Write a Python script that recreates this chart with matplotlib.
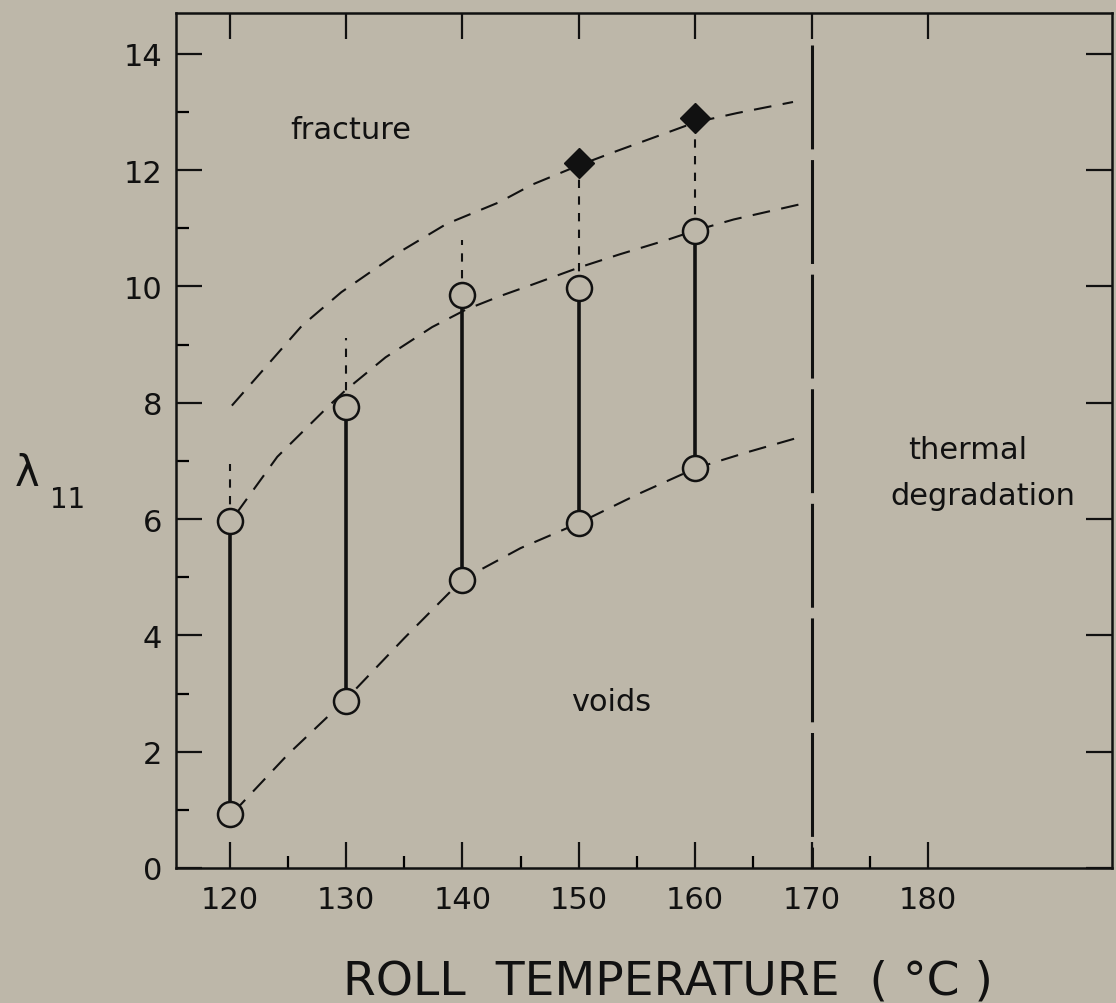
import matplotlib
matplotlib.use('Agg')
import matplotlib.pyplot as plt
from matplotlib.ticker import MultipleLocator, FixedLocator

# roll temperature (deg C) of each test series
temps = [120, 130, 140, 150, 160]
# lower / upper draw ratio limits (open circles)
lam_low = [0.92, 2.87, 4.96, 5.93, 6.87]
lam_high = [5.97, 7.93, 9.85, 9.97, 10.96]
# top of the dotted extension above each upper circle
lam_ext = [6.95, 9.12, 10.8, 12.12, 12.9]
# fracture points (filled diamonds)
frac_temps = [150, 160]
frac_vals = [12.12, 12.9]

# hand drawn boundary curves
upper_x = [120.2, 126.2, 129.6, 132.2, 134.6, 138.6, 143.2, 146.0, 150.0, 153.3, 157.0, 160.0, 163.6, 168.4]
upper_y = [7.95, 9.32, 9.9, 10.26, 10.59, 11.07, 11.45, 11.75, 12.08, 12.33, 12.6, 12.82, 12.98, 13.17]
mid_x = [120.6, 124.1, 128.6, 130.0, 133.4, 137.4, 140.3, 143.2, 146.0, 150.1, 153.5, 157.6, 160.0, 163.3, 169.2]
mid_y = [6.1, 7.07, 7.96, 8.22, 8.78, 9.3, 9.6, 9.83, 10.03, 10.33, 10.55, 10.8, 10.96, 11.15, 11.42]
low_x = [120.3, 125.0, 130.0, 135.0, 140.0, 145.0, 150.0, 155.0, 160.0, 164.5, 168.5]
low_y = [0.95, 1.95, 2.9, 3.95, 4.96, 5.5, 5.93, 6.42, 6.87, 7.15, 7.38]

degrade_temp = 170
bg = '#bdb7a9'
ink = '#111111'

plt.rcParams['font.family'] = 'DejaVu Sans'

fig = plt.figure(figsize=(11.16, 10.04), dpi=100, facecolor=bg)
ax = fig.add_axes([176/1116, 1 - 869/1004, (1112-176)/1116, (869-14)/1004])
ax.set_facecolor(bg)

# boundary curves
for cx, cy in [(upper_x, upper_y), (mid_x, mid_y), (low_x, low_y)]:
    ax.plot(cx, cy, color=ink, lw=1.5, dashes=(8.5, 5.5), zorder=2)

# dotted extensions up to fracture
for t, hi, top in zip(temps, lam_high, lam_ext):
    ax.plot([t, t], [hi, top], color=ink, lw=1.5, dashes=(4, 4), zorder=2)

# solid range bars
ax.vlines(temps, lam_low, lam_high, color=ink, lw=2.6, zorder=3)

# open circles
ax.plot(temps, lam_low, 'o', ms=18, mfc=bg, mec=ink, mew=1.8, ls='none', zorder=4)
ax.plot(temps, lam_high, 'o', ms=18, mfc=bg, mec=ink, mew=1.8, ls='none', zorder=4)

# fracture diamonds
ax.plot(frac_temps, frac_vals, 'D', ms=15, color=ink, ls='none', zorder=5)

# thermal degradation limit
ax.plot([degrade_temp, degrade_temp], [14.15, 0.0], color=ink, lw=2.2, dashes=(34, 3.5), zorder=2)

ax.text(130.4, 12.7, 'fracture', fontsize=22, ha='center', va='center', color=ink)
ax.text(152.8, 2.86, 'voids', fontsize=22, ha='center', va='center', color=ink)
ax.text(183.4, 7.2, 'thermal', fontsize=22, ha='center', va='center', color=ink)
ax.text(184.7, 6.4, 'degradation', fontsize=22, ha='center', va='center', color=ink)

ax.set_xlim(115.4, 195.8)
ax.set_ylim(0, 14.7)

ax.xaxis.set_major_locator(FixedLocator([120, 130, 140, 150, 160, 170, 180]))
ax.xaxis.set_minor_locator(FixedLocator([125, 135, 145, 155, 165, 175]))
ax.yaxis.set_major_locator(MultipleLocator(2))
ax.yaxis.set_minor_locator(FixedLocator([1, 3, 5, 7, 9, 11, 13]))

ax.tick_params(which='major', direction='in', length=19, width=1.6, top=True, right=True,
               labelsize=22, colors=ink)
ax.tick_params(which='minor', direction='in', length=9, width=1.6, top=False, right=False)
ax.tick_params(axis='x', which='major', pad=12)
ax.tick_params(axis='y', which='major', pad=10)

for sp in ax.spines.values():
    sp.set_linewidth(1.8)
    sp.set_color(ink)

# axis labels placed as in the original figure
fig.text(27/1116, 1 - 474/1004, '\u03bb', fontsize=30, ha='center', va='center', color=ink)
fig.text(68/1116, 1 - 500/1004, '11', fontsize=20, ha='center', va='center', color=ink)
fig.text(343/1116, 1 - 995/1004, 'ROLL  TEMPERATURE  ( \u00b0C )', fontsize=34,
         ha='left', va='baseline', color=ink)

plt.savefig('out.png', dpi=100, facecolor=bg)
